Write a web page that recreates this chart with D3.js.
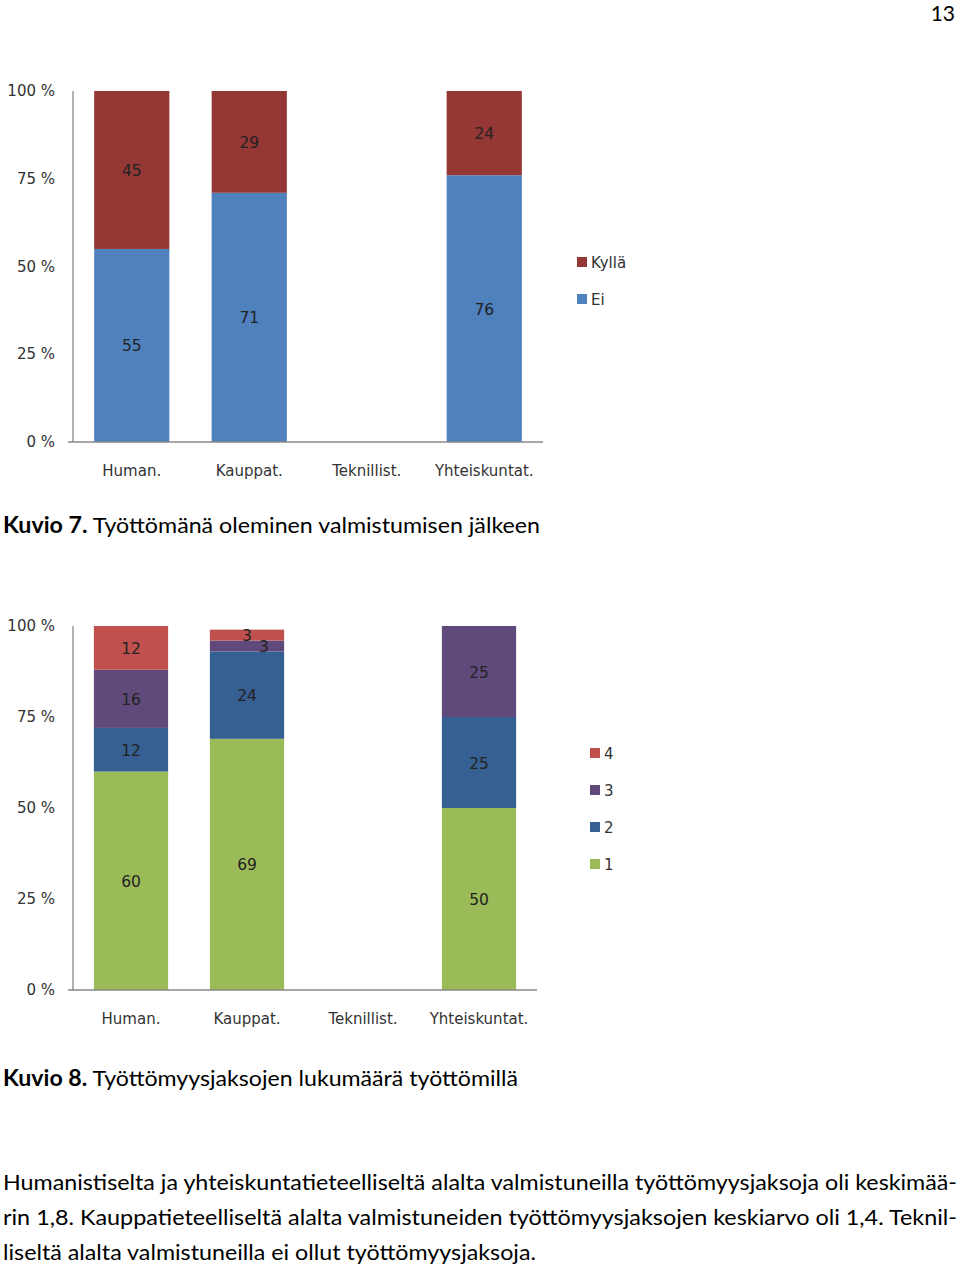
<!DOCTYPE html>
<html><head><meta charset="utf-8">
<script src="https://cdn.jsdelivr.net/npm/d3@7"></script>
<style>body{margin:0;background:#fff}svg{display:block}</style>
</head><body>
<script>
const categories = ["Human.", "Kauppat.", "Teknillist.", "Yhteiskuntat."];
// Chart 1: Kuvio 7
const series1Names = ["Ei", "Kyllä"];
const ei = [55, 71, 0, 76];
const kylla = [45, 29, 0, 24];
// Chart 2: Kuvio 8
const series2Names = ["1", "2", "3", "4"];
const s1 = [60, 69, 0, 50];
const s2 = [12, 24, 0, 25];
const s3 = [16, 3, 0, 25];
const s4 = [12, 3, 0, 0];
const yTicks = [0, 25, 50, 75, 100];
const yTickLabels = ["0 %", "25 %", "50 %", "75 %", "100 %"];

const W = 960, H = 1267;
const svg = d3.select("body").append("svg").attr("width", W).attr("height", H);
svg.append("rect").attr("width", W).attr("height", H).attr("fill", "#fff");

const chartFont = "'DejaVu Sans', Verdana, sans-serif";
const textFont = "Lato, 'Open Sans', sans-serif";

function drawChart(cfg) {
  const g = svg.append("g");
  const x = d3.scaleBand().domain(categories).range([cfg.x0, cfg.x1]).paddingInner(cfg.pad).paddingOuter(cfg.pad / 2);
  const y = d3.scaleLinear().domain([0, 100]).range([cfg.y0, cfg.y1]);
  const stack = [];
  categories.forEach((c, i) => {
    let acc = 0;
    cfg.series.forEach((s, k) => {
      const v = s.values[i];
      stack.push({cat: c, k, v, lo: acc, hi: acc + v, color: s.color});
      acc += v;
    });
  });
  const segH = d => y(d.lo) - y(d.hi);
  const aboveOf = d => stack.find(e => e.cat === d.cat && e.k === d.k + 1 && e.v > 0);
  g.selectAll("rect.bar").data(stack.filter(d => d.v > 0)).join("rect")
    .attr("class", "bar")
    .attr("x", d => x(d.cat)).attr("width", x.bandwidth())
    .attr("y", d => y(d.hi)).attr("height", d => segH(d))
    .attr("fill", d => d.color);
  const labels = stack.filter(d => d.v > 0);
  g.selectAll("text.lbl").data(labels).join("text")
    .attr("class", "lbl")
    .attr("x", d => {
      const small = segH(d) < 14;
      const ab = aboveOf(d);
      const crowded = small && ab && segH(ab) < 14;
      return x(d.cat) + x.bandwidth() / 2 + (crowded ? 17 : 0);
    })
    .attr("y", d => (y(d.lo) + y(d.hi)) / 2 + 6)
    .attr("text-anchor", "middle")
    .attr("font-family", chartFont).attr("font-size", 15.5)
    .attr("fill", "#222")
    .text(d => d.v);
  g.append("line").attr("x1", cfg.x0).attr("x2", cfg.x0).attr("y1", y(100)).attr("y2", y(0))
    .attr("stroke", "#888").attr("stroke-width", 1.3);
  g.append("line").attr("x1", cfg.x0 - 5).attr("x2", cfg.x1).attr("y1", y(0)).attr("y2", y(0))
    .attr("stroke", "#888").attr("stroke-width", 1.3);
  g.selectAll("text.yt").data(yTicks).join("text")
    .attr("class", "yt")
    .attr("x", 55).attr("y", d => y(d) + 5)
    .attr("text-anchor", "end")
    .attr("font-family", chartFont).attr("font-size", 15).attr("fill", "#333")
    .text((d, i) => yTickLabels[i]);
  g.selectAll("text.xt").data(categories).join("text")
    .attr("class", "xt")
    .attr("x", d => x(d) + x.bandwidth() / 2).attr("y", cfg.y0 + 34)
    .attr("text-anchor", "middle")
    .attr("font-family", chartFont).attr("font-size", 15).attr("fill", "#333")
    .text(d => d);
  const leg = cfg.series.slice().reverse();
  const lg = g.selectAll("g.leg").data(leg).join("g").attr("class", "leg")
    .attr("transform", (d, i) => `translate(${cfg.lx},${cfg.ly + i * cfg.lstep})`);
  lg.append("rect").attr("x", 0).attr("y", -5).attr("width", 10).attr("height", 10).attr("fill", d => d.color);
  lg.append("text").attr("x", 14).attr("y", 6).attr("font-family", chartFont).attr("font-size", 15)
    .attr("fill", "#333").text(d => d.name);
}

drawChart({
  x0: 73, x1: 543, y0: 442, y1: 91, pad: 0.36,
  series: [
    {name: series1Names[0], values: ei, color: "#4F81BD"},
    {name: series1Names[1], values: kylla, color: "#953735"}
  ],
  lx: 577, ly: 262, lstep: 37
});
drawChart({
  x0: 73, x1: 537, y0: 990, y1: 626, pad: 0.36,
  series: [
    {name: series2Names[0], values: s1, color: "#9BBB59"},
    {name: series2Names[1], values: s2, color: "#376092"},
    {name: series2Names[2], values: s3, color: "#604A7B"},
    {name: series2Names[3], values: s4, color: "#C0504D"}
  ],
  lx: 590, ly: 753, lstep: 37
});

svg.append("text").attr("x", 955).attr("y", 21).attr("text-anchor", "end")
  .attr("font-family", textFont).attr("font-size", 21).attr("fill", "#000").text("13");

function caption(yPos, bold, rest, len) {
  const t = svg.append("text").attr("x", 3).attr("y", yPos)
    .attr("font-family", textFont).attr("font-size", 22).attr("fill", "#000")
    .attr("textLength", len).attr("lengthAdjust", "spacingAndGlyphs");
  t.append("tspan").attr("font-weight", "bold").text(bold);
  t.append("tspan").text(" " + rest);
}
caption(533, "Kuvio 7.", "Työttömänä oleminen valmistumisen jälkeen", 537);
caption(1086, "Kuvio 8.", "Työttömyysjaksojen lukumäärä työttömillä", 515);

const para = [
  "Humanistiselta ja yhteiskuntatieteelliseltä alalta valmistuneilla työttömyysjaksoja oli keskimää-",
  "rin 1,8. Kauppatieteelliseltä alalta valmistuneiden työttömyysjaksojen keskiarvo oli 1,4. Teknil-",
  "liseltä alalta valmistuneilla ei ollut työttömyysjaksoja."
];
const paraLen = [954, 954, 533];
para.forEach((line, i) => {
  svg.append("text").attr("x", 3).attr("y", 1190 + i * 35)
    .attr("font-family", textFont).attr("font-size", 22).attr("fill", "#000")
    .attr("textLength", paraLen[i]).attr("lengthAdjust", "spacingAndGlyphs")
    .text(line);
});
</script>
</body></html>
